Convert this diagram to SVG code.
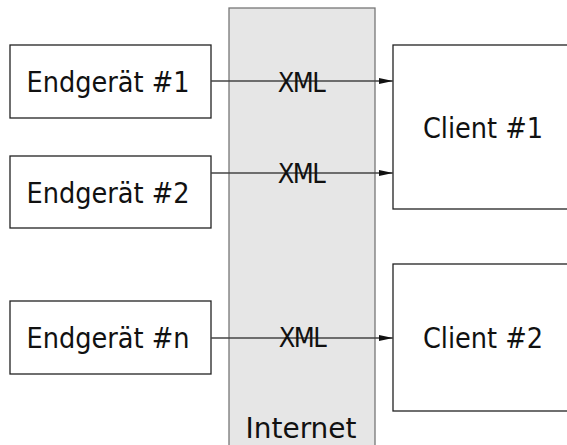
<svg xmlns="http://www.w3.org/2000/svg" width="567" height="445" viewBox="0 0 567 445">
<style>
.box{fill:#fff;stroke:#222;stroke-width:1.3}
.lbl{font-family:"DejaVu Sans Condensed","DejaVu Sans",sans-serif;font-size:28.5px;fill:#111;text-anchor:middle}
.xml{font-family:"DejaVu Sans Condensed","DejaVu Sans",sans-serif;font-size:27px;fill:#111;text-anchor:middle;letter-spacing:-1.5px}
.conn{stroke:#444;stroke-width:1.3;fill:none;marker-end:url(#ah)}
</style>
<defs>
<marker id="ah" markerWidth="14" markerHeight="8" refX="14" refY="4" orient="auto" markerUnits="userSpaceOnUse">
<path d="M0,1 L14,4 L0,7 Z" fill="#111"/>
</marker>
</defs>
<rect width="567" height="445" fill="#fff"/>
<g id="internet">
<rect x="229" y="8" width="146" height="445" fill="#e6e6e6" stroke="#777" stroke-width="1.3"/>
<text class="lbl" x="301" y="438" textLength="111" lengthAdjust="spacingAndGlyphs">Internet</text>
</g>
<g id="endgeraet1">
<rect class="box" x="10" y="45" width="201" height="73"/>
<text class="lbl" x="108" y="92">Endgerät #1</text>
</g>
<g id="endgeraet2">
<rect class="box" x="10" y="156" width="201" height="72"/>
<text class="lbl" x="108" y="203">Endgerät #2</text>
</g>
<g id="endgeraetn">
<rect class="box" x="10" y="301" width="201" height="73"/>
<text class="lbl" x="108" y="348">Endgerät #n</text>
</g>
<g id="client1">
<rect class="box" x="393" y="45" width="190" height="164"/>
<text class="lbl" x="483" y="138">Client #1</text>
</g>
<g id="client2">
<rect class="box" x="393" y="264" width="190" height="147"/>
<text class="lbl" x="483" y="348">Client #2</text>
</g>
<g id="connectors">
<line class="conn" x1="211" y1="81" x2="393" y2="81"/>
<line class="conn" x1="211" y1="173" x2="393" y2="173"/>
<line class="conn" x1="211" y1="338" x2="393" y2="338"/>
<text class="xml" x="301" y="92">XML</text>
<text class="xml" x="301" y="183">XML</text>
<text class="xml" x="302" y="347">XML</text>
</g>
</svg>
